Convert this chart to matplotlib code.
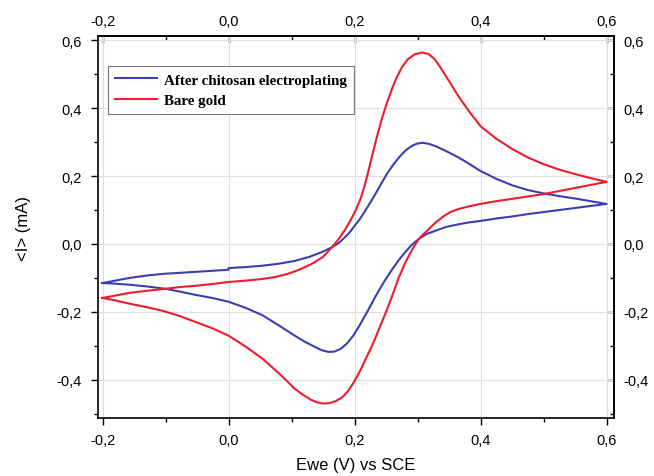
import matplotlib
matplotlib.use("Agg")
import matplotlib.pyplot as plt
from matplotlib.ticker import FuncFormatter

plt.rcParams["font.family"] = ["Liberation Sans", "DejaVu Sans"]

# potential (V vs SCE) and current (mA), read along the scan direction
chitosan_E = [-0.2, -0.18, -0.157, -0.13, -0.104, -0.078, -0.052, -0.026, 0.0, 0.0,
              0.027, 0.054, 0.08, 0.105, 0.128, 0.148, 0.164, 0.175, 0.185, 0.193,
              0.2, 0.208, 0.216, 0.225, 0.234, 0.243, 0.252, 0.262, 0.272, 0.282,
              0.292, 0.3, 0.308, 0.318, 0.33, 0.345, 0.365, 0.382, 0.4, 0.425,
              0.45, 0.475, 0.5, 0.525, 0.55, 0.575, 0.6,
              0.575, 0.55, 0.525, 0.5, 0.475, 0.45, 0.425, 0.4, 0.38, 0.365,
              0.345, 0.33, 0.315, 0.302, 0.29, 0.28, 0.27, 0.26, 0.247, 0.234,
              0.221, 0.208, 0.198, 0.188, 0.178, 0.168, 0.159, 0.148, 0.137, 0.121,
              0.105, 0.08, 0.054, 0.027, 0.0, -0.026, -0.052, -0.078, -0.1, -0.13,
              -0.157, -0.18, -0.2]
chitosan_I = [-0.115, -0.108, -0.100, -0.093, -0.088, -0.085, -0.082, -0.079, -0.076, -0.071,
              -0.068, -0.064, -0.058, -0.050, -0.038, -0.024, -0.010, 0.003, 0.020, 0.036,
              0.053, 0.072, 0.095, 0.122, 0.150, 0.180, 0.208, 0.235, 0.258, 0.277,
              0.290, 0.296, 0.298, 0.295, 0.287, 0.274, 0.255, 0.236, 0.215, 0.192,
              0.173, 0.159, 0.149, 0.141, 0.134, 0.126, 0.118,
              0.112, 0.106, 0.100, 0.094, 0.088, 0.081, 0.075, 0.068, 0.063, 0.058,
              0.050, 0.040, 0.030, 0.015, -0.004, -0.025, -0.048, -0.074, -0.111, -0.152,
              -0.197, -0.240, -0.270, -0.293, -0.309, -0.317, -0.318, -0.313, -0.303, -0.288,
              -0.270, -0.240, -0.210, -0.188, -0.170, -0.159, -0.150, -0.140, -0.132, -0.125,
              -0.120, -0.117, -0.115]

gold_E = [-0.2, -0.18, -0.157, -0.13, -0.1, -0.078, -0.052, -0.026, 0.0, 0.027,
          0.054, 0.075, 0.094, 0.112, 0.132, 0.15, 0.164, 0.175, 0.185, 0.195,
          0.203, 0.21, 0.218, 0.226, 0.234, 0.242, 0.25, 0.258, 0.266, 0.275,
          0.285, 0.296, 0.307, 0.317, 0.327, 0.338, 0.35, 0.365, 0.382, 0.4,
          0.425, 0.45, 0.475, 0.5, 0.525, 0.55, 0.575, 0.6,
          0.575, 0.55, 0.525, 0.5, 0.475, 0.45, 0.425, 0.4, 0.382, 0.365,
          0.352, 0.34, 0.328, 0.318, 0.31, 0.302, 0.292, 0.281, 0.27, 0.26,
          0.25, 0.239, 0.229, 0.22, 0.208, 0.198, 0.189, 0.18, 0.17, 0.16,
          0.15, 0.14, 0.13, 0.118, 0.105, 0.08, 0.054, 0.027, 0.0, -0.026,
          -0.052, -0.078, -0.104, -0.13, -0.157, -0.18, -0.2]
gold_I = [-0.159, -0.152, -0.144, -0.138, -0.132, -0.127, -0.123, -0.118, -0.112, -0.108,
          -0.103, -0.097, -0.088, -0.076, -0.059, -0.038, -0.010, 0.015, 0.042, 0.074,
          0.104, 0.135, 0.185, 0.245, 0.305, 0.360, 0.408, 0.450, 0.487, 0.520,
          0.545, 0.559, 0.564, 0.560, 0.545, 0.515, 0.480, 0.435, 0.390, 0.347,
          0.310, 0.280, 0.255, 0.235, 0.219, 0.206, 0.194, 0.183,
          0.174, 0.165, 0.156, 0.147, 0.140, 0.133, 0.126, 0.118, 0.111, 0.103,
          0.094, 0.080, 0.062, 0.044, 0.030, 0.015, -0.015, -0.053, -0.100, -0.152,
          -0.200, -0.250, -0.295, -0.330, -0.377, -0.410, -0.435, -0.452, -0.463, -0.469,
          -0.470, -0.466, -0.458, -0.444, -0.426, -0.381, -0.338, -0.302, -0.270, -0.248,
          -0.230, -0.212, -0.197, -0.186, -0.176, -0.166, -0.159]

labels = ["After chitosan electroplating", "Bare gold"]
colors = ["#3a3fb0", "#ee1c2e"]

x_major = [-0.2, 0.0, 0.2, 0.4, 0.6]
x_minor = [-0.1, 0.1, 0.3, 0.5]
y_major = [-0.4, -0.2, 0.0, 0.2, 0.4, 0.6]
y_minor = [-0.5, -0.3, -0.1, 0.1, 0.3, 0.5]

comma = FuncFormatter(lambda v, p: f"{v:.1f}".replace(".", ","))

fig = plt.figure(figsize=(6.54, 4.77), dpi=100)
ax = fig.add_axes([0.150, 0.122, 0.789, 0.800])

ax.plot(chitosan_E, chitosan_I, color=colors[0], lw=1.5, label=labels[0])
ax.plot(gold_E, gold_I, color=colors[1], lw=1.5, label=labels[1])

ax.set_xlim(-0.207, 0.612)
ax.set_ylim(-0.512, 0.612)

# top/right axes mirror the bottom/left ones, ticks pointing inward
top = ax.secondary_xaxis("top")
right = ax.secondary_yaxis("right")
for axis in (ax.xaxis, top.xaxis):
    axis.set_ticks(x_major)
    axis.set_ticks(x_minor, minor=True)
    axis.set_major_formatter(comma)
for axis in (ax.yaxis, right.yaxis):
    axis.set_ticks(y_major)
    axis.set_ticks(y_minor, minor=True)
    axis.set_major_formatter(comma)

ax.tick_params(which="major", direction="out", length=5, width=1, labelsize=10.5)
ax.tick_params(axis="x", which="major", pad=6)
ax.tick_params(axis="y", which="major", pad=7)
ax.tick_params(which="minor", direction="out", length=3, width=1)
ax.grid(True, which="major", color="#dedede", lw=0.8)

for spine in ax.spines.values():
    spine.set_linewidth(1.2)

for sec in (top, right):
    sec.tick_params(which="major", direction="in", length=5, width=1, labelsize=10.5)
    sec.tick_params(which="minor", direction="in", length=3, width=1)
    sec.spines[:].set_linewidth(1.2)
top.tick_params(which="major", pad=6)
right.tick_params(which="major", pad=7)

ax.set_xlabel("Ewe (V) vs SCE", fontsize=12, labelpad=7)
ax.set_ylabel("<I> (mA)", fontsize=12, labelpad=18)

leg = ax.legend(loc="upper left", bbox_to_anchor=(0.02, 0.921), borderaxespad=0,
                fancybox=False, edgecolor="#777777", framealpha=1, handlelength=2.8,
                borderpad=0.45, labelspacing=0.45, handletextpad=0.45,
                prop={"family": "Liberation Serif", "weight": "bold", "size": 10.8})
leg.get_frame().set_linewidth(0.8)

fig.savefig("out.png", dpi=100)
